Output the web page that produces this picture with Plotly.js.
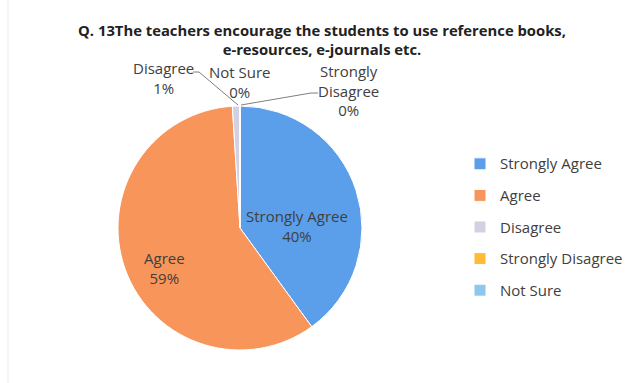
<!DOCTYPE html>
<html><head><meta charset="utf-8">
<script src="https://cdn.plot.ly/plotly-3.0.1.min.js"></script>
<style>html,body{margin:0;padding:0;background:#fff}#chart{width:632px;height:383px}</style>
</head><body><div id="chart"></div>
<script>
// ---- data ----
const categories = ['Strongly Agree', 'Agree', 'Disagree', 'Strongly Disagree', 'Not Sure'];
const percentages = [40, 59, 1, 0, 0];
const sliceColors = ['#5B9FEB', '#F8955A', '#D3D1E1', '#FFBB33', '#8FC6EE'];
const titleLines = ['Q. 13The teachers encourage the students to use reference books,', 'e-resources, e-journals etc.'];

// ---- layout helpers (pixel -> paper, margins are 0) ----
const W = 632, H = 383;
const px = x => x / W, py = y => 1 - y / H;
const FONT = '"Open Sans", "Noto Sans", sans-serif';
const LABEL_SIZE = 15, LEGEND_TEXT = 15;

// data label placement (Excel-style positions)
const labelSpots = [
  { x: 297, y: 226 },
  { x: 164, y: 268 },
  { x: 163, y: 78 },
  { x: 349, y: 90 },
  { x: 240, y: 82 }
];
const labelText = (c, v) => (c === 'Strongly Disagree' ? c.replace(' ', '<br>') : c) + '<br>' + v + '%';
const annotations = categories.map((c, i) => ({
  xref: 'paper', yref: 'paper', x: px(labelSpots[i].x), y: py(labelSpots[i].y),
  xanchor: 'center', yanchor: 'middle', showarrow: false, align: 'center',
  text: labelText(c, percentages[i]),
  font: { family: FONT, size: LABEL_SIZE, color: '#404040' }
}));

// leader lines for the thin slices
const leader = pts => 'M ' + pts.map(p => px(p[0]) + ',' + py(p[1])).join(' L ');
const shapes = [
  { type: 'path', xref: 'paper', yref: 'paper', path: leader([[193, 72], [199, 72], [238, 105]]), line: { color: '#7f7f7f', width: 1 } },
  { type: 'path', xref: 'paper', yref: 'paper', path: leader([[241, 105], [311, 93], [318, 93]]), line: { color: '#7f7f7f', width: 1 } },
  { type: 'line', xref: 'paper', yref: 'paper', x0: px(8), x1: px(8), y0: 0, y1: 1, line: { color: '#ececec', width: 1 } }
];

const trace = {
  type: 'pie',
  labels: categories.map(c => '<span style="font-size:' + LEGEND_TEXT + 'px;baseline-shift:3px">' + c + '</span>'),
  values: percentages,
  sort: false,
  direction: 'clockwise',
  rotation: 0,
  textinfo: 'none',
  hoverinfo: 'label+percent',
  marker: { colors: sliceColors, line: { color: '#ffffff', width: 1 } },
  domain: { x: [px(118), px(362)], y: [py(350), py(106)] },
  showlegend: true
};

const layout = {
  width: W, height: H,
  margin: { l: 0, r: 0, t: 0, b: 0 },
  paper_bgcolor: '#ffffff',
  font: { family: FONT, color: '#404040' },
  title: {
    text: '<b>' + titleLines.join('<br>') + '</b>',
    x: px(322), xanchor: 'center', y: py(36), yanchor: 'top', yref: 'container',
    font: { family: FONT, size: 14.8, color: '#222222' }
  },
  legend: {
    x: px(460), y: py(143), xanchor: 'left', yanchor: 'top',
    font: { family: FONT, size: 22, color: '#404040' },
    bgcolor: 'rgba(0,0,0,0)'
  },
  annotations: annotations,
  shapes: shapes
};

Plotly.newPlot('chart', [trace], layout, { displayModeBar: false, staticPlot: true });
</script>
</body></html>
